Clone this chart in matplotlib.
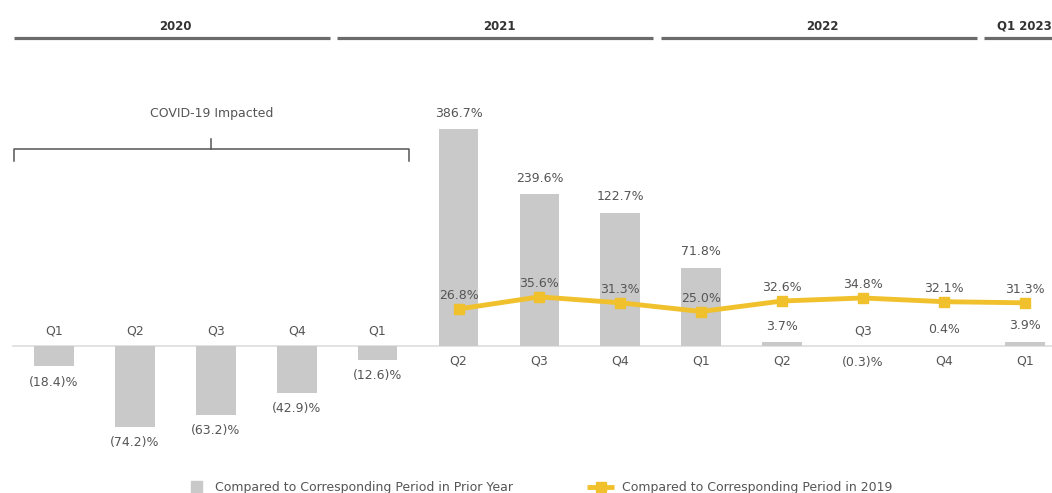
import numpy as np
import matplotlib.pyplot as plt
from matplotlib.patches import Rectangle
from matplotlib.lines import Line2D

# Data
quarters = ["Q1", "Q2", "Q3", "Q4", "Q1", "Q2", "Q3", "Q4", "Q1", "Q2", "Q3", "Q4", "Q1"]
prior_year = [-18.4, -74.2, -63.2, -42.9, -12.6, 386.7, 239.6, 122.7, 71.8, 3.7, -0.3, 0.4, 3.9]
vs_2019_idx = [5, 6, 7, 8, 9, 10, 11, 12]
vs_2019 = [26.8, 35.6, 31.3, 25.0, 32.6, 34.8, 32.1, 31.3]
years = ["2020", "2021", "2022", "Q1 2023"]
year_spans = [(0, 3), (4, 7), (8, 11), (12, 12)]
covid_span = (0, 4)

W, H = 1052, 493
BAR = "#c9c9c9"
GOLD = "#f0c12c"
TXT = "#555555"

fig = plt.figure(figsize=(W / 100, H / 100), dpi=100)
ax = fig.add_axes([0, 0, 1, 1])

# bars are not drawn to scale in the source: compress the tall ones
knot_val = np.array([-1000, 0, 125, 240, 390, 3000])
knot_px = np.array([-1090, 0, 136, 152, 218, 1392])


def fwd(v):
    return np.interp(v, knot_val, knot_px)


def inv(p):
    return np.interp(p, knot_px, knot_val)


ax.set_yscale("function", functions=(fwd, inv))
base = H - 346  # baseline height in px from bottom
ax.set_ylim(inv(-base), inv(H - base))
ax.set_xlim(-54 / 80.9, (W - 54) / 80.9)
ax.axis("off")

x = np.arange(len(quarters))
ax.bar(x, prior_year, width=0.49, color=BAR, zorder=2)
ax.axhline(0, xmin=13 / W, xmax=1, color="#dddddd", lw=1.2, zorder=1)


def fmt(v):
    return f"({abs(v):.1f})%" if v < 0 else f"{v:.1f}%"


for xi, v, q in zip(x, prior_year, quarters):
    sgn = 1 if v >= 0 else -1
    ax.annotate(fmt(v), (xi, v), xytext=(0, sgn * 11.5), textcoords="offset points",
                ha="center", va="center", fontsize=9, color=TXT)
    ax.annotate(q, (xi, 0), xytext=(0, -sgn * 11), textcoords="offset points",
                ha="center", va="center", fontsize=9, color=TXT)

# header: years with thick rules
tr = ax.get_xaxis_transform()
for label, (a, b) in zip(years, year_spans):
    x0, x1 = a - 0.5, min(b + 0.41, 12.4)
    ax.plot([x0, x1], [0.923, 0.923], transform=tr, color="#6b6b6b", lw=2.3,
            solid_capstyle="butt", clip_on=False)
    ax.text((a + b) / 2, 0.947, label, transform=tr, ha="center", va="center",
            fontsize=8.5, fontweight="bold", color="#333333")

# COVID bracket
bx0, bx1 = covid_span[0] - 0.5, covid_span[1] + 0.39
bm = (bx0 + bx1) / 2
yh = (H - 149) / H
ax.plot([bx0, bx0, bx1, bx1], [yh - 12 / H, yh, yh, yh - 12 / H], transform=tr,
        color="#555555", lw=1.1)
ax.plot([bm, bm], [yh, yh + 10 / H], transform=tr, color="#555555", lw=1.1)
ax.text(bm, (H - 113) / H, "COVID-19 Impacted", transform=tr, ha="center", va="center",
        fontsize=9, color=TXT)

# line on secondary axis
ax2 = ax.twinx()
ax2.set_ylim(-base / 1.38, (H - base) / 1.38)
ax2.set_xlim(ax.get_xlim())
ax2.axis("off")
ax2.plot(vs_2019_idx, vs_2019, color=GOLD, lw=3.5, marker="s", markersize=6.5, zorder=3)
for xi, v in zip(vs_2019_idx, vs_2019):
    ax2.annotate(f"{v:.1f}%", (xi, v), xytext=(0, 9.5), textcoords="offset points",
                 ha="center", va="center", fontsize=9, color=TXT)

# legend (bottom, partly cut off as in the source)
ly = 6 / H
fig.patches.append(Rectangle((191 / W, 0), 11 / W, 12 / H, transform=fig.transFigure,
                             color=BAR))
fig.text(215 / W, ly, "Compared to Corresponding Period in Prior Year", ha="left",
         va="center", fontsize=9, color=TXT)
fig.lines.append(Line2D([587 / W, 614 / W], [ly, ly], transform=fig.transFigure,
                        color=GOLD, lw=3.5, solid_capstyle="butt"))
fig.lines.append(Line2D([600.5 / W], [ly], transform=fig.transFigure,
                        color=GOLD, marker="s", markersize=6.5, lw=0))
fig.text(622 / W, ly, "Compared to Corresponding Period in 2019", ha="left",
         va="center", fontsize=9, color=TXT)

fig.savefig("out.png", dpi=100)
